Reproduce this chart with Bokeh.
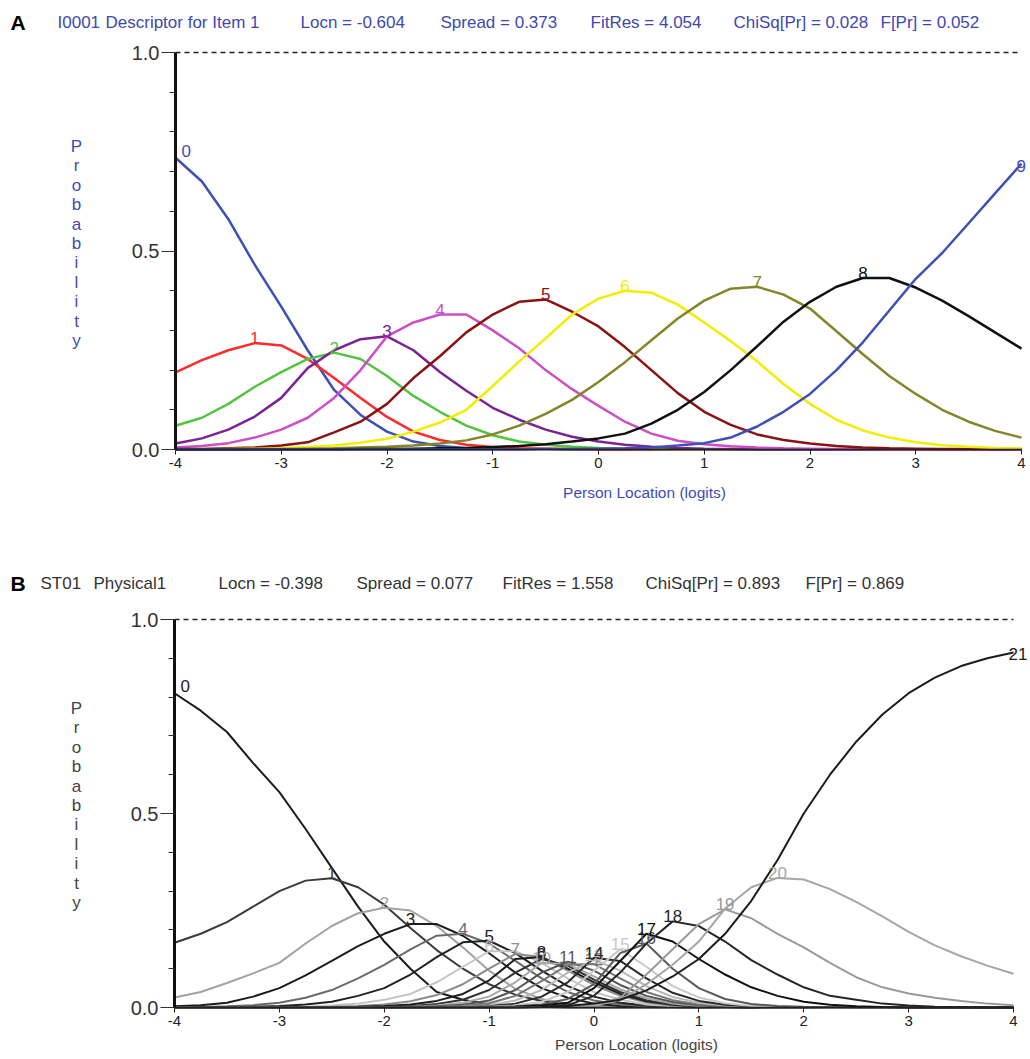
from bokeh.plotting import figure
from bokeh.models import Range1d, Label, FixedTicker, SingleIntervalTicker, PrintfTickFormatter
from bokeh.layouts import column
from bokeh.embed import file_html
from bokeh.resources import INLINE

# ---------------- data ----------------
LOGITS = [-4.0, -3.75, -3.5, -3.25, -3.0, -2.75, -2.5, -2.25, -2.0, -1.75, -1.5, -1.25, -1.0,
          -0.75, -0.5, -0.25, 0.0, 0.25, 0.5, 0.75, 1.0, 1.25, 1.5, 1.75, 2.0, 2.25, 2.5,
          2.75, 3.0, 3.25, 3.5, 3.75, 4.0]

# Panel A: category probability curves, item I0001 (categories 0..9)
A_CAT0 = [0.735, 0.675, 0.58, 0.465, 0.36, 0.25, 0.15, 0.087, 0.045, 0.02, 0.009, 0.004, 0.002, 0.001, 0.001,
          0, 0, 0, 0, 0, 0, 0, 0, 0, 0, 0, 0, 0, 0, 0, 0, 0, 0]
A_CAT1 = [0.194, 0.225, 0.25, 0.268, 0.262, 0.228, 0.18, 0.13, 0.082, 0.045, 0.024, 0.012, 0.006, 0.003, 0.002, 0.001,
          0, 0, 0, 0, 0, 0, 0, 0, 0, 0, 0, 0, 0, 0, 0, 0, 0]
A_CAT2 = [0.06, 0.08, 0.115, 0.158, 0.195, 0.228, 0.244, 0.228, 0.185, 0.135, 0.095, 0.06, 0.036, 0.02, 0.012, 0.007,
          0.004, 0.002, 0.001, 0, 0, 0, 0, 0, 0, 0, 0, 0, 0, 0, 0, 0, 0]
A_CAT3 = [0.015, 0.028, 0.05, 0.083, 0.13, 0.205, 0.25, 0.278, 0.285, 0.25, 0.195, 0.148, 0.105, 0.075, 0.05, 0.032,
          0.02, 0.012, 0.007, 0.004, 0.002, 0.001, 0, 0, 0, 0, 0, 0, 0, 0, 0, 0, 0]
A_CAT4 = [0.005, 0.009, 0.016, 0.03, 0.05, 0.08, 0.13, 0.2, 0.285, 0.32, 0.34, 0.34, 0.30, 0.255, 0.2, 0.152,
          0.11, 0.07, 0.04, 0.022, 0.013, 0.008, 0.005, 0.003, 0.002, 0.001, 0.001, 0, 0, 0, 0, 0, 0]
A_CAT5 = [0.001, 0.001, 0.003, 0.005, 0.01, 0.018, 0.043, 0.07, 0.115, 0.18, 0.235, 0.295, 0.34, 0.372, 0.378, 0.347,
          0.31, 0.258, 0.2, 0.142, 0.095, 0.062, 0.038, 0.024, 0.015, 0.009, 0.005, 0.003, 0.002, 0.001, 0.001, 0.001, 0.001]
A_CAT6 = [0, 0, 0.001, 0.002, 0.003, 0.006, 0.01, 0.017, 0.027, 0.045, 0.068, 0.1, 0.16, 0.222, 0.28, 0.34,
          0.38, 0.40, 0.395, 0.365, 0.32, 0.273, 0.222, 0.165, 0.115, 0.075, 0.048, 0.03, 0.018, 0.011, 0.007, 0.004, 0.003]
A_CAT7 = [0, 0, 0, 0.001, 0.001, 0.002, 0.003, 0.005, 0.007, 0.01, 0.015, 0.023, 0.038, 0.06, 0.09, 0.125,
          0.17, 0.22, 0.275, 0.33, 0.375, 0.405, 0.41, 0.39, 0.355, 0.298, 0.24, 0.185, 0.14, 0.1, 0.07, 0.047, 0.03]
A_CAT8 = [0, 0, 0, 0, 0, 0, 0, 0.001, 0.001, 0.002, 0.003, 0.004, 0.006, 0.009, 0.013, 0.02,
          0.028, 0.04, 0.065, 0.1, 0.145, 0.2, 0.26, 0.322, 0.372, 0.41, 0.432, 0.432, 0.408, 0.375, 0.336, 0.295, 0.254]
A_CAT9 = [0, 0, 0, 0, 0, 0, 0, 0, 0, 0, 0, 0, 0, 0, 0.001, 0.001,
          0.002, 0.003, 0.005, 0.01, 0.016, 0.03, 0.058, 0.095, 0.14, 0.2, 0.27, 0.35, 0.43, 0.495, 0.57, 0.645, 0.72]
A_CURVES = [A_CAT0, A_CAT1, A_CAT2, A_CAT3, A_CAT4, A_CAT5, A_CAT6, A_CAT7, A_CAT8, A_CAT9]
A_NAMES = ["0", "1", "2", "3", "4", "5", "6", "7", "8", "9"]
A_TITLE = ["I0001", "Descriptor for Item 1", "Locn = -0.604", "Spread = 0.373",
           "FitRes = 4.054", "ChiSq[Pr] = 0.028", "F[Pr] = 0.052"]

# Panel B: category probability curves, item ST01 (categories 0..21)
B_CAT0 = [0.81, 0.765, 0.71, 0.63, 0.555, 0.46, 0.36, 0.26, 0.17, 0.1, 0.04, 0.02, 0.008, 0.003, 0.001,
          0, 0, 0, 0, 0, 0, 0, 0, 0, 0, 0, 0, 0, 0, 0, 0, 0, 0]
B_CAT1 = [0.167, 0.19, 0.22, 0.26, 0.3, 0.327, 0.333, 0.31, 0.265, 0.205, 0.148, 0.1, 0.06, 0.033, 0.017, 0.008,
          0.004, 0.002, 0.001, 0, 0, 0, 0, 0, 0, 0, 0, 0, 0, 0, 0, 0, 0]
B_CAT2 = [0.026, 0.04, 0.063, 0.088, 0.115, 0.165, 0.21, 0.243, 0.257, 0.25, 0.21, 0.155, 0.095, 0.048, 0.022, 0.01,
          0.004, 0.002, 0.001, 0, 0, 0, 0, 0, 0, 0, 0, 0, 0, 0, 0, 0, 0]
B_CAT3 = [0.003, 0.006, 0.012, 0.028, 0.05, 0.083, 0.12, 0.158, 0.19, 0.215, 0.215, 0.185, 0.14, 0.09, 0.05, 0.025,
          0.01, 0.004, 0.002, 0.001, 0, 0, 0, 0, 0, 0, 0, 0, 0, 0, 0, 0, 0]
B_CAT4 = [0, 0.001, 0.003, 0.006, 0.012, 0.025, 0.045, 0.075, 0.11, 0.15, 0.185, 0.19, 0.165, 0.12, 0.075, 0.04,
          0.018, 0.008, 0.003, 0.001, 0, 0, 0, 0, 0, 0, 0, 0, 0, 0, 0, 0, 0]
B_CAT5 = [0, 0, 0, 0.002, 0.004, 0.008, 0.015, 0.03, 0.05, 0.085, 0.13, 0.168, 0.172, 0.14, 0.095, 0.055,
          0.028, 0.012, 0.005, 0.002, 0.001, 0, 0, 0, 0, 0, 0, 0, 0, 0, 0, 0, 0]
B_CAT6 = [0, 0, 0, 0, 0.001, 0.002, 0.005, 0.01, 0.02, 0.035, 0.065, 0.105, 0.145, 0.145, 0.115, 0.075,
          0.04, 0.02, 0.008, 0.003, 0.001, 0, 0, 0, 0, 0, 0, 0, 0, 0, 0, 0, 0]
B_CAT7 = [0, 0, 0, 0, 0, 0.001, 0.002, 0.004, 0.008, 0.016, 0.032, 0.06, 0.1, 0.138, 0.13, 0.095,
          0.058, 0.03, 0.013, 0.005, 0.002, 0.001, 0, 0, 0, 0, 0, 0, 0, 0, 0, 0, 0]
B_CAT8 = [0, 0, 0, 0, 0, 0, 0.001, 0.002, 0.004, 0.008, 0.017, 0.035, 0.07, 0.125, 0.13, 0.1,
          0.065, 0.035, 0.016, 0.007, 0.003, 0.001, 0, 0, 0, 0, 0, 0, 0, 0, 0, 0, 0]
B_CAT9 = [0, 0, 0, 0, 0, 0, 0, 0.001, 0.002, 0.004, 0.009, 0.02, 0.045, 0.09, 0.125, 0.108,
          0.072, 0.04, 0.019, 0.008, 0.003, 0.001, 0, 0, 0, 0, 0, 0, 0, 0, 0, 0, 0]
B_CAT10 = [0, 0, 0, 0, 0, 0, 0, 0, 0.001, 0.002, 0.005, 0.012, 0.028, 0.065, 0.115, 0.112,
           0.08, 0.047, 0.024, 0.01, 0.004, 0.002, 0.001, 0, 0, 0, 0, 0, 0, 0, 0, 0, 0]
B_CAT11 = [0, 0, 0, 0, 0, 0, 0, 0, 0, 0.001, 0.003, 0.007, 0.018, 0.045, 0.09, 0.118,
           0.095, 0.058, 0.03, 0.014, 0.006, 0.002, 0.001, 0, 0, 0, 0, 0, 0, 0, 0, 0, 0]
B_CAT12 = [0, 0, 0, 0, 0, 0, 0, 0, 0, 0, 0.002, 0.004, 0.011, 0.03, 0.068, 0.11,
           0.112, 0.075, 0.04, 0.019, 0.008, 0.003, 0.001, 0, 0, 0, 0, 0, 0, 0, 0, 0, 0]
B_CAT13 = [0, 0, 0, 0, 0, 0, 0, 0, 0, 0, 0.001, 0.002, 0.006, 0.018, 0.045, 0.09,
           0.123, 0.095, 0.055, 0.027, 0.012, 0.005, 0.002, 0.001, 0, 0, 0, 0, 0, 0, 0, 0, 0]
B_CAT14 = [0, 0, 0, 0, 0, 0, 0, 0, 0, 0, 0, 0.001, 0.003, 0.01, 0.028, 0.065,
           0.128, 0.12, 0.075, 0.038, 0.017, 0.007, 0.003, 0.001, 0, 0, 0, 0, 0, 0, 0, 0, 0]
B_CAT15 = [0, 0, 0, 0, 0, 0, 0, 0, 0, 0, 0, 0, 0.002, 0.005, 0.015, 0.04,
           0.095, 0.15, 0.105, 0.055, 0.026, 0.011, 0.004, 0.002, 0.001, 0, 0, 0, 0, 0, 0, 0, 0]
B_CAT16 = [0, 0, 0, 0, 0, 0, 0, 0, 0, 0, 0, 0, 0.001, 0.003, 0.008, 0.022,
           0.06, 0.14, 0.165, 0.1, 0.05, 0.022, 0.009, 0.004, 0.002, 0.001, 0, 0, 0, 0, 0, 0, 0]
B_CAT17 = [0, 0, 0, 0, 0, 0, 0, 0, 0, 0, 0, 0, 0, 0.002, 0.005, 0.012,
           0.05, 0.12, 0.19, 0.17, 0.125, 0.085, 0.052, 0.03, 0.015, 0.007, 0.003, 0.001, 0, 0, 0, 0, 0]
B_CAT18 = [0, 0, 0, 0, 0, 0, 0, 0, 0, 0, 0, 0, 0, 0, 0.002, 0.006,
           0.03, 0.09, 0.165, 0.222, 0.21, 0.17, 0.122, 0.085, 0.052, 0.03, 0.02, 0.01, 0.005, 0.002, 0.001, 0, 0]
B_CAT19 = [0, 0, 0, 0, 0, 0, 0, 0, 0, 0, 0, 0, 0, 0, 0, 0.002,
           0.006, 0.025, 0.085, 0.15, 0.215, 0.253, 0.23, 0.19, 0.155, 0.115, 0.078, 0.052, 0.036, 0.025, 0.017, 0.01, 0.006]
B_CAT20 = [0, 0, 0, 0, 0, 0, 0, 0, 0, 0, 0, 0, 0, 0, 0.001, 0.002,
           0.005, 0.02, 0.06, 0.11, 0.17, 0.255, 0.31, 0.334, 0.33, 0.305, 0.272, 0.235, 0.195, 0.16, 0.132, 0.108, 0.087]
B_CAT21 = [0, 0, 0, 0, 0, 0, 0, 0, 0, 0, 0, 0, 0, 0, 0.001, 0.004,
           0.01, 0.02, 0.044, 0.08, 0.125, 0.19, 0.275, 0.38, 0.5, 0.6, 0.685, 0.755, 0.81, 0.85, 0.88, 0.9, 0.915]
B_CURVES = [B_CAT0, B_CAT1, B_CAT2, B_CAT3, B_CAT4, B_CAT5, B_CAT6, B_CAT7, B_CAT8, B_CAT9, B_CAT10,
            B_CAT11, B_CAT12, B_CAT13, B_CAT14, B_CAT15, B_CAT16, B_CAT17, B_CAT18, B_CAT19, B_CAT20, B_CAT21]
B_NAMES = [str(i) for i in range(22)]
B_TITLE = ["ST01", "Physical1", "Locn = -0.398", "Spread = 0.077",
           "FitRes = 1.558", "ChiSq[Pr] = 0.893", "F[Pr] = 0.869"]

X_TICKS = [-4, -3, -2, -1, 0, 1, 2, 3, 4]
X_TICK_LABELS = ["-4", "-3", "-2", "-1", "0", "1", "2", "3", "4"]
Y_TICKS = [0.0, 0.5, 1.0]
X_TITLE = "Person Location (logits)"
Y_TITLE = "Probability"

# ---------------- styles ----------------
FONT = "Liberation Sans"
A_COLORS = ["#3e4fb5", "#ff2a2a", "#52c440", "#7b2294", "#cc4fc4", "#8b1212",
            "#f2ee00", "#85852a", "#111111", "#3e4fb5"]
B_COLORS = ["#1c1c1c", "#3a3a3a", "#a2a2a2", "#1c1c1c", "#6a6a6a", "#222222", "#c4c4c4",
            "#8c8c8c", "#1c1c1c", "#333333", "#a8a8a8", "#555555", "#777777", "#b8b8b8",
            "#2a2a2a", "#c8c8c8", "#5a5a5a", "#111111", "#262626", "#9a9a9a", "#a6a6a6", "#1c1c1c"]

FIG_W = 1030


def make_panel(curves, names, colors, lw, letter, title_parts, title_px, title_ypx,
               abs_top, fig_h, left_abs, right_abs, one_abs, zero_abs,
               text_color, axis_title_color, letter_ypx, xtitle_ypx, xtitle_cx):
    xa, xb = X_TICKS[0], X_TICKS[-1]
    ppl = (right_abs - left_abs) / float(xb - xa)
    ppu = float(zero_abs - one_abs) / Y_TICKS[-1]

    def dx(px):
        return xa + (px - left_abs) / ppl

    def dy(px):
        return (zero_abs - px) / ppu

    p = figure(width=FIG_W, height=fig_h,
               x_range=Range1d(dx(0), dx(FIG_W)),
               y_range=Range1d(dy(abs_top + fig_h), dy(abs_top)),
               output_backend="svg", toolbar_location=None, min_border=0)
    p.outline_line_color = None
    p.grid.visible = False
    p.background_fill_color = "white"
    p.border_fill_color = "white"

    # axes placed at the data origin of the panel
    p.yaxis.fixed_location = xa
    p.yaxis.bounds = (Y_TICKS[0], Y_TICKS[-1])
    p.yaxis.ticker = SingleIntervalTicker(interval=0.5, num_minor_ticks=5)
    p.yaxis.formatter = PrintfTickFormatter(format="%.1f")
    p.yaxis.axis_line_width = 3
    p.yaxis.axis_line_color = "#111111"
    p.yaxis.major_tick_out = 14
    p.yaxis.major_tick_in = 0
    p.yaxis.minor_tick_out = 6
    p.yaxis.minor_tick_in = 0
    p.yaxis.major_tick_line_color = "#333333"
    p.yaxis.minor_tick_line_color = "#333333"
    p.yaxis.major_label_standoff = 2
    p.yaxis.major_label_text_font = FONT
    p.yaxis.major_label_text_font_size = "20px"
    p.yaxis.major_label_text_color = "#333333"

    p.xaxis.fixed_location = Y_TICKS[0]
    p.xaxis.bounds = (xa, xb)
    p.xaxis.ticker = FixedTicker(ticks=X_TICKS)
    p.xaxis.major_label_overrides = dict(zip(X_TICKS, X_TICK_LABELS))
    p.xaxis.axis_line_width = 1.5
    p.xaxis.axis_line_color = "#222222"
    p.xaxis.major_tick_out = 5
    p.xaxis.major_tick_in = 0
    p.xaxis.minor_tick_out = 0
    p.xaxis.major_tick_line_color = "#222222"
    p.xaxis.major_label_standoff = 3
    p.xaxis.major_label_text_font = FONT
    p.xaxis.major_label_text_font_size = "15px"
    p.xaxis.major_label_text_color = "#222222"

    # dashed reference line at probability 1.0
    p.line([xa, xb], [Y_TICKS[-1], Y_TICKS[-1]], line_color="#222222",
           line_dash="5 4", line_width=1.3)

    for ys, c in zip(curves, colors):
        p.line(LOGITS, ys, line_color=c, line_width=lw)

    # curve labels at each curve's maximum
    n = len(LOGITS)
    for ys, nm, c in zip(curves, names, colors):
        k = max(range(n), key=lambda i: ys[i])
        if k == 0:
            lab = Label(x=LOGITS[k], y=ys[k], text=nm, x_offset=6, y_offset=1,
                        text_align="left", text_baseline="bottom")
        elif k == n - 1:
            lab = Label(x=LOGITS[k], y=ys[k], text=nm, x_offset=-5, y_offset=-8,
                        text_align="left", text_baseline="bottom")
        else:
            lab = Label(x=LOGITS[k], y=ys[k], text=nm, y_offset=-1,
                        text_align="center", text_baseline="bottom")
        lab.text_font = FONT
        lab.text_font_size = "17px"
        lab.text_color = c
        p.add_layout(lab)

    # header line
    p.add_layout(Label(x=dx(10), y=dy(title_ypx), text=letter, text_font=FONT,
                       text_font_style="bold", text_font_size="21px", text_color="#000000",
                       text_baseline="middle", text_align="left"))
    for t, px in zip(title_parts, title_px):
        p.add_layout(Label(x=dx(px), y=dy(title_ypx), text=t, text_font=FONT,
                           text_font_size="17px", text_color=text_color,
                           text_baseline="middle", text_align="left"))
    # vertical stacked axis title
    for i, ch in enumerate(Y_TITLE):
        p.add_layout(Label(x=dx(76), y=dy(letter_ypx + 19.4 * i), text=ch, text_font=FONT,
                           text_font_size="17px", text_color=axis_title_color,
                           text_baseline="middle", text_align="center"))
    p.add_layout(Label(x=dx(xtitle_cx), y=dy(xtitle_ypx), text=X_TITLE, text_font=FONT,
                       text_font_size="15.5px", text_color=axis_title_color,
                       text_baseline="middle", text_align="center"))
    return p


pA = make_panel(A_CURVES, A_NAMES, A_COLORS, 2.5, "A", A_TITLE,
                [57, 105, 300, 440, 590, 733, 880], 22,
                0, 528, 175, 1021, 52, 449,
                "#4048b0", "#3f4cb4", 146, 492, 644)
pB = make_panel(B_CURVES, B_NAMES, B_COLORS, 2.0, "B", B_TITLE,
                [40, 93, 218, 356, 502, 645, 805], 583,
                528, 530, 174, 1013, 619, 1007,
                "#333333", "#444444", 708, 1044, 636)

layout = column(pA, pB, spacing=0)
open("out.html", "w").write(file_html(layout, INLINE))
